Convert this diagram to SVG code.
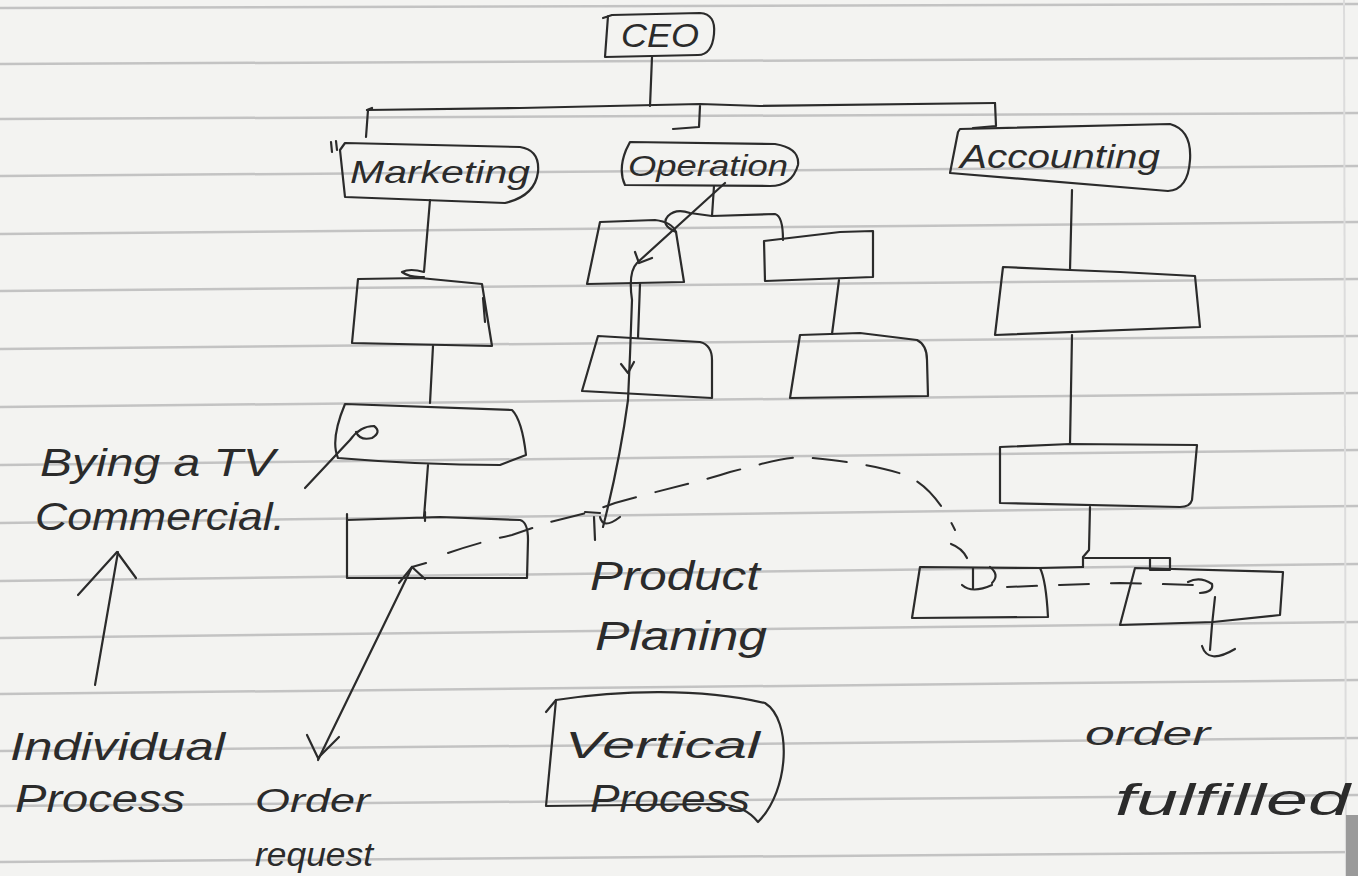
<svg xmlns="http://www.w3.org/2000/svg" width="1358" height="876" viewBox="0 0 1358 876">
<style>
.ink{fill:none;stroke:#2b2b2b;stroke-width:2.2;stroke-linecap:round;stroke-linejoin:round}
.dash{fill:none;stroke:#2b2b2b;stroke-width:2;stroke-linecap:round;stroke-dasharray:34 20}
.rule{stroke:#c3c3c3;stroke-width:2.5}
.t{font-family:"Liberation Sans","DejaVu Sans",sans-serif;font-style:italic;fill:#2b2b2b}
</style>
<rect width="1358" height="876" fill="#f3f3f1"/>
<g id="paper">
<line class="rule" x1="0" y1="8" x2="1358" y2="4"/>
<line class="rule" x1="0" y1="64" x2="1358" y2="58"/>
<line class="rule" x1="0" y1="119" x2="1358" y2="113"/>
<line class="rule" x1="0" y1="176" x2="1358" y2="166"/>
<line class="rule" x1="0" y1="234" x2="1358" y2="222"/>
<line class="rule" x1="0" y1="291" x2="1358" y2="279"/>
<line class="rule" x1="0" y1="349" x2="1358" y2="336"/>
<line class="rule" x1="0" y1="407" x2="1358" y2="393"/>
<line class="rule" x1="0" y1="465" x2="1358" y2="450"/>
<line class="rule" x1="0" y1="523" x2="1358" y2="506"/>
<line class="rule" x1="0" y1="581" x2="1358" y2="564"/>
<line class="rule" x1="0" y1="638" x2="1358" y2="622"/>
<line class="rule" x1="0" y1="694" x2="1358" y2="680"/>
<line class="rule" x1="0" y1="751" x2="1358" y2="738"/>
<line class="rule" x1="0" y1="806" x2="1358" y2="795"/>
<line class="rule" x1="0" y1="862" x2="1358" y2="852"/>
<line x1="1344" y1="0" x2="1346" y2="876" stroke="#dcdcdc" stroke-width="2"/>
<rect x="1346" y="815" width="12" height="61" fill="#9a9a9a"/>
</g>

<g id="connectors">
<path class="ink" d="M652,57 L650,106"/>
<path class="ink" d="M372,108 L367,110 L520,108 L700,104 L760,106 L995,103"/>
<path class="ink" d="M368,110 L366,137"/>
<path class="ink" d="M700,106 L699,127 L673,129"/>
<path class="ink" d="M995,103 L996,126 L973,128"/>
<path class="ink" d="M430,200 L424,272 Q410,268 402,272 Q410,278 424,277"/>
<path class="ink" d="M433,346 L430,403"/>
<path class="ink" d="M428,465 L424,517"/>
<path class="ink" d="M714,186 L712,216"/>
<path class="ink" d="M676,232 Q660,225 668,216 Q676,208 690,213 L712,216 L775,214 Q783,216 783,240"/>
<path class="ink" d="M640,284 L638,338"/>
<path class="ink" d="M839,280 L832,334"/>
<path class="ink" d="M725,183 L638,262"/>
<path class="ink" d="M652,258 L639,263 L635,252"/>
<path class="ink" d="M637,263 Q628,272 632,300 L630,355 L628,400 Q620,460 603,527"/>
<path class="ink" d="M621,364 L628,373 L634,362"/>
<path class="ink" d="M585,512 L600,513 M594,517 L595,540 M600,517 Q603,530 620,517"/>
<path class="dash" d="M448,553 Q480,542 512,535 L550,522 L590,512 L615,503 C660,490 700,482 730,472 C770,462 790,455 812,458 C850,462 880,466 905,475 C930,485 945,510 955,530"/>
<path class="ink" d="M951,544 Q962,548 967,558"/>
<path class="ink" d="M973,568 L973,588 M962,585 Q972,594 992,585 M990,567 Q1000,575 992,583"/>
<path class="ink" d="M1072,190 L1070,270"/>
<path class="ink" d="M1072,335 L1070,444"/>
<path class="ink" d="M1090,507 L1089,550 L1083,557 L1083,567"/>
<path class="ink" d="M1085,558 L1170,558 L1170,570 L1150,570 L1150,558"/>
<path class="dash" d="M1007,587 L1060,585 L1120,583 L1197,585" style="stroke-dasharray:30 22"/>
<path class="ink" d="M1188,582 Q1200,576 1212,584 Q1214,592 1200,593"/>
<path class="ink" d="M1215,597 L1212,625 L1210,650"/>
<path class="ink" d="M1202,646 Q1208,665 1235,649"/>
<path class="ink" d="M305,488 L350,440 Q360,426 374,426 Q382,432 372,438 Q360,441 356,432"/>
<path class="ink" d="M318,760 L412,567"/>
<path class="ink" d="M307,735 L318,758 L339,737"/>
<path class="ink" d="M399,583 L412,567 L425,579 M412,567 L426,563"/>
<path class="ink" d="M95,685 L118,552"/>
<path class="ink" d="M78,595 L117,552 L136,578"/>
<path class="ink" d="M546,712 L556,700"/>
</g>

<g id="ceo">
<path class="ink" d="M603,18 L612,15 L700,13 Q716,14 714,34 Q712,55 698,55 L605,57 L608,16"/>
<text class="t" x="660" y="47" font-size="34" text-anchor="middle" textLength="78" lengthAdjust="spacingAndGlyphs">CEO</text>
</g>
<g id="marketing">
<path class="ink" d="M345,143 L520,147 Q540,150 538,172 Q535,196 505,203 L345,197 L340,150 Z"/>
<path class="ink" d="M331,142 L332,152 M336,141 L337,150"/>
<text class="t" x="440" y="183" font-size="32" text-anchor="middle" textLength="180" lengthAdjust="spacingAndGlyphs">Marketing</text>
</g>
<g id="operation">
<path class="ink" d="M630,142 L775,144 Q800,148 798,165 Q792,186 770,186 L625,185 Q618,170 626,150 Z"/>
<text class="t" x="708" y="176" font-size="30" text-anchor="middle" textLength="160" lengthAdjust="spacingAndGlyphs">Operation</text>
</g>
<g id="accounting">
<path class="ink" d="M960,129 L1170,124 Q1192,130 1190,160 Q1188,190 1168,191 L950,173 L958,132 Z"/>
<text class="t" x="1060" y="168" font-size="34" text-anchor="middle" textLength="200" lengthAdjust="spacingAndGlyphs">Accounting</text>
</g>
<g id="m1"><path class="ink" d="M358,279 L420,278 L482,284 L492,346 L352,343 Z M483,298 L485,322"/></g>
<g id="m2"><path class="ink" d="M345,404 L512,410 Q522,420 526,455 L500,465 Q420,465 338,458 Q330,440 345,404 Z"/></g>
<g id="m3"><path class="ink" d="M347,520 L440,517 L520,520 Q528,522 528,540 L527,578 L347,578 Z M347,514 L347,522 M425,512 L425,521"/></g>
<g id="o1"><path class="ink" d="M600,222 L655,220 Q672,222 676,232 L684,282 L587,284 Z"/></g>
<g id="o2"><path class="ink" d="M764,241 L840,232 L873,231 L873,277 L765,281 Z"/></g>
<g id="o3"><path class="ink" d="M598,336 L700,342 Q712,345 712,360 L712,398 L582,391 Z"/></g>
<g id="o4"><path class="ink" d="M800,335 L860,333 L917,340 Q927,345 927,360 L928,396 L790,398 Z"/></g>
<g id="a1"><path class="ink" d="M1003,267 L1070,270 L1120,272 L1195,276 L1200,327 L995,335 Z"/></g>
<g id="a2"><path class="ink" d="M1000,447 L1070,444 L1197,445 L1192,500 Q1190,507 1180,507 L1000,503 Z"/></g>
<g id="a3"><path class="ink" d="M920,567 L1040,568 Q1046,580 1048,617 L912,618 Z M1040,568 L1083,567"/></g>
<g id="a4"><path class="ink" d="M1135,568 L1283,572 L1280,615 L1213,622 L1120,625 Z"/></g>

<g id="label-tv">
<text class="t" x="40" y="476" font-size="38" textLength="235" lengthAdjust="spacingAndGlyphs">Bying a TV</text>
<text class="t" x="35" y="530" font-size="38" textLength="250" lengthAdjust="spacingAndGlyphs">Commercial.</text>
</g>
<g id="label-individual">
<text class="t" x="10" y="760" font-size="38" textLength="215" lengthAdjust="spacingAndGlyphs">Individual</text>
<text class="t" x="15" y="812" font-size="38" textLength="170" lengthAdjust="spacingAndGlyphs">Process</text>
</g>
<g id="label-order-request">
<text class="t" x="255" y="812" font-size="34" textLength="115" lengthAdjust="spacingAndGlyphs">Order</text>
<text class="t" x="255" y="866" font-size="34" textLength="118" lengthAdjust="spacingAndGlyphs">request</text>
</g>
<g id="label-product">
<text class="t" x="590" y="590" font-size="40" textLength="170" lengthAdjust="spacingAndGlyphs">Product</text>
<text class="t" x="595" y="650" font-size="40" textLength="172" lengthAdjust="spacingAndGlyphs">Planing</text>
</g>
<g id="vertical-process">
<path class="ink" d="M556,700 C620,690 700,688 765,703 C792,720 790,790 758,822 C750,812 740,806 720,804 L546,806 L556,700"/>
<text class="t" x="565" y="758" font-size="36" textLength="195" lengthAdjust="spacingAndGlyphs">Vertical</text>
<text class="t" x="590" y="812" font-size="38" textLength="160" lengthAdjust="spacingAndGlyphs">Process</text>
</g>
<g id="label-order-fulfilled">
<text class="t" x="1085" y="745" font-size="34" textLength="125" lengthAdjust="spacingAndGlyphs">order</text>
<text class="t" x="1115" y="815" font-size="44" textLength="235" lengthAdjust="spacingAndGlyphs">fulfilled</text>
</g>
</svg>
